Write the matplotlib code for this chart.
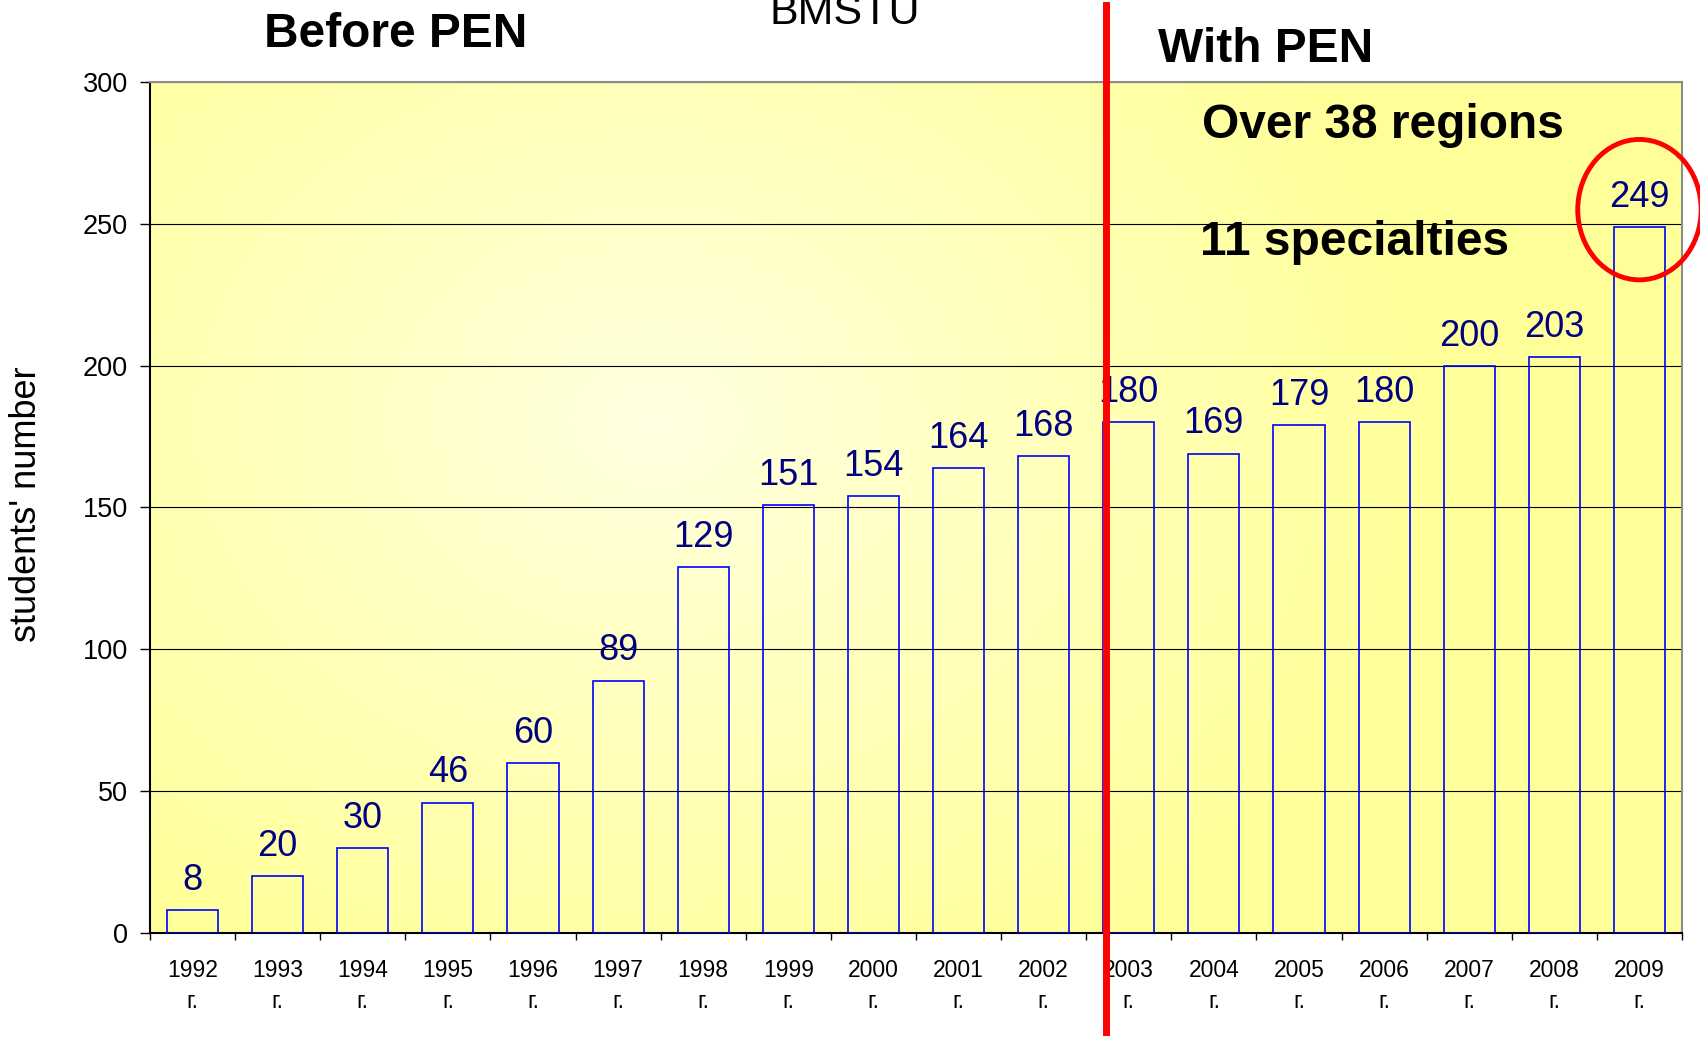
import numpy as np
import matplotlib
matplotlib.use("Agg")
import matplotlib.pyplot as plt
from matplotlib.patches import Ellipse
from matplotlib.colors import to_rgb

plt.rcParams['font.family'] = ['Liberation Sans', 'DejaVu Sans']

#---------------------------------- data ----------------------------------
years = [1992, 1993, 1994, 1995, 1996, 1997, 1998, 1999, 2000,
         2001, 2002, 2003, 2004, 2005, 2006, 2007, 2008, 2009]
students = [8, 20, 30, 46, 60, 89, 129, 151, 154,
            164, 168, 180, 169, 179, 180, 200, 203, 249]
year_labels = [f"{y}\nг." for y in years]
yticks = [0, 50, 100, 150, 200, 250, 300]
pen_start = 10.73      # where the red split line sits (between 2002 and 2003)

#---------------------------------- figure ----------------------------------
W, H = 1700, 1038
fig = plt.figure(figsize=(W / 100, H / 100), dpi=100)
ax = fig.add_axes([150 / W, 1 - 933 / H, (1682 - 150) / W, (933 - 82) / H])

# yellow background, lighter toward the middle-left
gx, gy = np.meshgrid(np.linspace(0, 1, 400), np.linspace(0, 1, 250))
d = np.sqrt(((gx - 0.33) / 0.52) ** 2 + ((gy - 0.6) / 0.75) ** 2)
t = np.clip(d, 0, 1) ** 0.9
c_in = np.array(to_rgb("#FFFFE2"))
c_out = np.array(to_rgb("#FFFF99"))
img = c_in[None, None, :] * (1 - t[..., None]) + c_out[None, None, :] * t[..., None]
ax.imshow(img, extent=[0, 1, 0, 1], transform=ax.transAxes, origin='lower',
          aspect='auto', zorder=0)

x = np.arange(len(years))
ax.bar(x, students, width=0.6, facecolor='none', edgecolor='#0000FF',
       linewidth=1.2, zorder=3)

for xi, v in zip(x, students):
    ax.annotate(str(v), (xi, v), xytext=(0, 14.5), textcoords='offset points',
                ha='center', va='baseline', fontsize=26, color='#000080', zorder=4)

ax.set_xlim(-0.5, len(years) - 0.5)
ax.set_ylim(0, 300)
ax.set_yticks(yticks)
ax.set_yticklabels([str(v) for v in yticks], fontsize=19.5)
ax.set_xticks(x)
ax.set_xticklabels(year_labels, fontsize=16.5, linespacing=1.45)
ax.set_xticks(np.arange(-0.5, len(years)), minor=True)
ax.tick_params(axis='x', which='major', length=0, pad=18.5)
ax.tick_params(axis='x', which='minor', length=5, width=1, direction='out')
ax.tick_params(axis='y', length=7, width=1, pad=9)
ax.grid(axis='y', color='black', linewidth=0.8, zorder=1)
ax.set_axisbelow(True)

for s in ['top', 'right']:
    ax.spines[s].set_color('#8C8C8C')
    ax.spines[s].set_linewidth(1.5)
ax.spines['left'].set_linewidth(1.5)
ax.spines['bottom'].set_linewidth(1.5)

# red split line running past the plot area
ax.axvline(pen_start, ymin=(933 - 1032) / 851, ymax=(933 - 5) / 851,
           color='#FF0000', linewidth=5, clip_on=False, zorder=6)

# circle around the last bar
ax.add_patch(Ellipse((len(years) - 1, 255), 1.45, 49.5, fill=False,
                     edgecolor='#FF0000', linewidth=3.5, clip_on=False, zorder=6))

fig.text(27 / W, 1 - 504 / H, "students' number", rotation=90,
         ha='center', va='center', fontsize=26)

fig.text(396 / W, 1 - 47 / H, "Before PEN", ha='center', va='baseline',
         fontsize=34.5, fontweight='bold')
fig.text(845 / W, 1 - 24 / H, "BMSTU", ha='center', va='baseline', fontsize=31)
fig.text(1158 / W, 1 - 62 / H, "With PEN", ha='left', va='baseline',
         fontsize=34.5, fontweight='bold')
fig.text(1202 / W, 1 - 138 / H, "Over 38 regions", ha='left', va='baseline',
         fontsize=34.5, fontweight='bold')
fig.text(1200 / W, 1 - 255 / H, "11 specialties", ha='left', va='baseline',
         fontsize=34.5, fontweight='bold')

fig.savefig("out.png", dpi=100, facecolor='white')
